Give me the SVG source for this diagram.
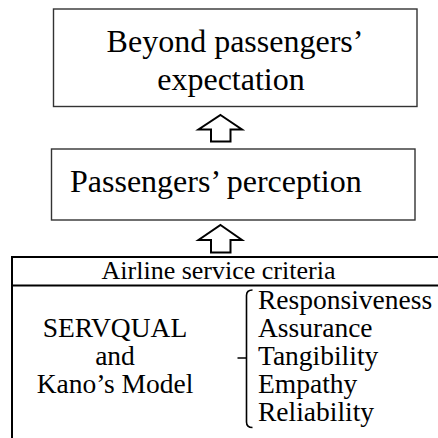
<svg xmlns="http://www.w3.org/2000/svg" width="438" height="438" viewBox="0 0 438 438">
<style>
.box{fill:#fff;stroke:#333;stroke-width:1.4}
.t{font-family:"Liberation Serif","Times New Roman",serif;fill:#000}
.big{font-size:32px}
.hdr{font-size:26px}
.mid{font-size:27.5px}
.arr{fill:#fff;stroke:#000;stroke-width:2;stroke-linejoin:miter}
.ln{stroke:#000;stroke-width:2;fill:none}
.br{stroke:#000;stroke-width:1.6;fill:none}
</style>
<rect width="438" height="438" fill="#fff"/>
<g id="node-beyond">
<rect class="box" x="53.5" y="9" width="363.5" height="97.5"/>
<text class="t big" x="235" y="52" text-anchor="middle">Beyond passengers’</text>
<text class="t big" x="231" y="90" text-anchor="middle">expectation</text>
</g>
<g id="node-perception">
<rect class="box" x="51.5" y="149" width="363.5" height="71"/>
<text class="t big" x="70" y="192">Passengers’ perception</text>
</g>
<g id="node-criteria">
<path class="ln" d="M438,257 H12 V438 M12,285.5 H438"/>
<text class="t hdr" x="218.5" y="279" text-anchor="middle">Airline service criteria</text>
<text class="t mid" x="115" y="337" text-anchor="middle">SERVQUAL</text>
<text class="t mid" x="115" y="365" text-anchor="middle">and</text>
<text class="t mid" x="115" y="393" text-anchor="middle">Kano’s Model</text>
<path class="br" d="M252.5,290 Q246.5,290 246.5,295.5 V422 Q246.5,427.5 252.5,427.5 M246.5,358 H237.5"/>
<text class="t mid" x="258" y="309">Responsiveness</text>
<text class="t mid" x="258" y="337">Assurance</text>
<text class="t mid" x="258" y="365">Tangibility</text>
<text class="t mid" x="258" y="393">Empathy</text>
<text class="t mid" x="258" y="421">Reliability</text>
</g>
<g id="connectors">
<polygon class="arr" points="220.5,115 242,129.5 230.5,129.5 230.5,141.5 211,141.5 211,129.5 198.5,129.5"/>
<polygon class="arr" points="220.5,225 242,240 230.5,240 230.5,252.5 211,252.5 211,240 198.5,240"/>
</g>
</svg>
